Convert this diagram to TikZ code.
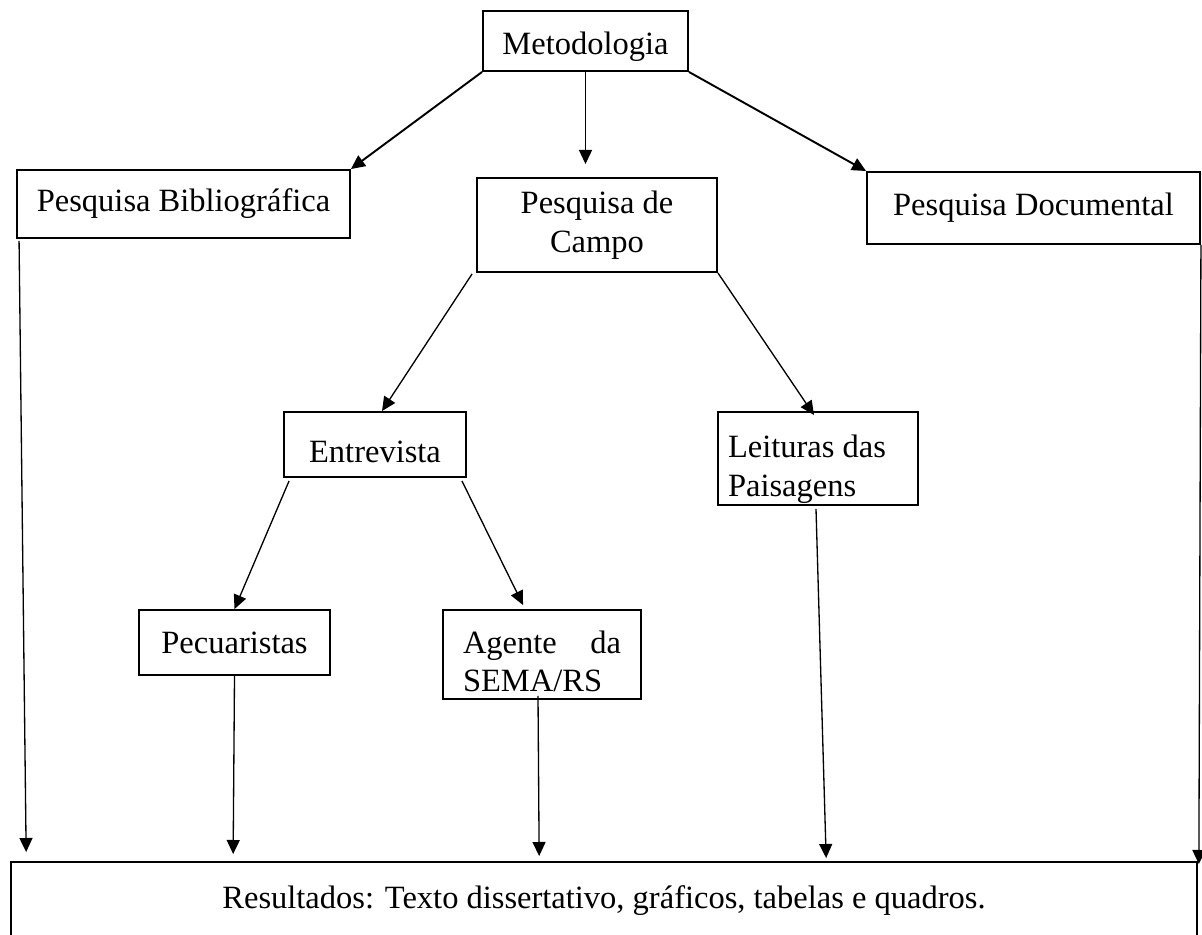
\documentclass[tikz,border=0pt]{standalone}
\usepackage{fontspec}
\setmainfont{Liberation Serif}
\usepackage{tikz}
\usetikzlibrary{arrows.meta}
\usetikzlibrary{calc}

\begin{document}
\begin{tikzpicture}[x=0.02cm,y=-0.02cm,
  box/.style={draw,line width=1.1pt,inner sep=0pt,font=\fontsize{18.5}{22}\selectfont},
  arr/.style={-{Triangle[length=8pt,width=7.4pt]},line width=0.75pt},
  heavy arr/.style={arr,line width=1.1pt}]
\useasboundingbox (0,0) rectangle (1202,935);
\node (meto) at (585.5,41) [box,minimum width=4.1cm,minimum height=1.2cm] {\raisebox{-3pt}[\height][\depth]{Metodologia}}; % top
\node (bib) at (183.5,204) [box,minimum width=6.66cm,minimum height=1.36cm] {Pesquisa Bibliográfica};
\node (campo) at (597,225) [box,minimum width=4.8cm,minimum height=1.88cm,align=center] {Pesquisa de\\Campo};
\node (doc) at (1033.5,208) [box,minimum width=6.66cm,minimum height=1.44cm] {Pesquisa Documental};
\node (entre) at (375,444.5) [box,minimum width=3.64cm,minimum height=1.3cm] {\raisebox{-4pt}[\height][\depth]{Entrevista}};
\node (leit) at (818,458.5) [box,minimum width=4cm,minimum height=1.86cm] {\raisebox{-6pt}[\height][\depth]{\parbox{3.6cm}{Leituras das\\Paisagens}}};
\node (pec) at (234.5,642.5) [box,minimum width=3.82cm,minimum height=1.3cm] {Pecuaristas};
\node (agen) at (542,654.5) [box,minimum width=3.96cm,minimum height=1.78cm] {\raisebox{-4pt}[\height][\depth]{\parbox{3.16cm}{Agente\hfill da\\SEMA/RS}}};
\node (res) at (604,901) [box,minimum width=23.72cm,minimum height=1.56cm] {Resultados: Texto dissertativo, gráficos, tabelas e quadros.}; % bottom
% first level
\draw[heavy arr] (meto.south west) -- (bib.north east);
\draw[arr,shorten >=0.26cm] (meto.south) -- (meto.south |- campo.north);
\draw[heavy arr] (meto.south east) -- (doc.north west);
% field work
\draw[arr] ($(campo.south west)+(-4,1)$) -- ($(entre.north)+(7,0)$);
\draw[arr] (campo.south east) -- ($(leit.north)+(-4,4)$);
\draw[arr] ($(entre.south west)+(6,3)$) -- (pec.north);
\draw[arr] ($(entre.south east)+(-5,3)$) -- ($(agen.north west)+(81,-4)$);
% down to results
\draw[arr] ($(bib.south west)+(3,2)$) -- ($(res.north west)+(16,-9)$);
\draw[arr] (pec.south) -- ($(res.north west)+(223,-7)$);
\draw[arr] ($(agen.south)+(-4,-4)$) -- ($(res.north west)+(529,-5)$);
\draw[arr] ($(leit.south)+(-2,3)$) -- ($(res.north west)+(816,-3)$);
\draw[arr] (doc.south east) -- ($(res.north east)+(1,3)$);
\end{tikzpicture}
\end{document}
